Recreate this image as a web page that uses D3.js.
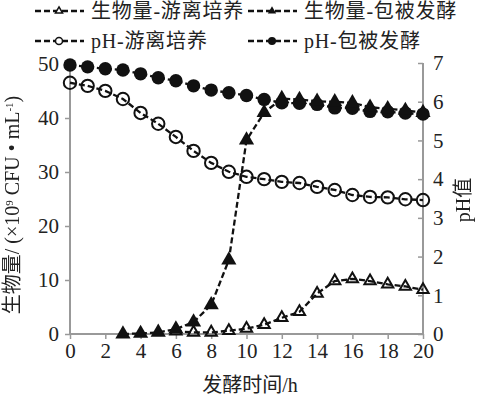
<!DOCTYPE html>
<html>
<head>
<meta charset="utf-8">
<script src="https://cdn.jsdelivr.net/npm/d3@7"></script>
<style>
  body { margin: 0; background: #fff; }
  svg text { font-family: "Liberation Serif", "Noto Sans CJK SC", serif; fill: #222; }
</style>
</head>
<body>
<div id="chart"></div>
<script>
// fermentation time (h)
var hours = d3.range(0, 21);
// biomass, free culture (x10^9 CFU/mL), starts at 6 h
var bioFreeT = [6, 7, 8, 9, 10, 11, 12, 13, 14, 15, 16, 17, 18, 19, 20];
var bioFree = [0.5, 0.3, 0.3, 0.6, 1.0, 1.7, 3.0, 4.1, 7.5, 9.8, 10.2, 9.8, 9.2, 8.8, 8.2];
// biomass, coated fermentation, starts at 3 h
var bioCoatT = [3, 4, 5, 6, 7, 8, 9, 10, 11, 12, 13, 14, 15, 16, 17, 18, 19, 20];
var bioCoat = [0, 0.1, 0.3, 0.9, 2.2, 5.4, 13.7, 35.9, 41.0, 43.6, 43.4, 43.1, 43.0, 42.8, 42.0, 41.7, 41.4, 41.0];
// pH values
var phFree = [6.49, 6.41, 6.28, 6.07, 5.71, 5.43, 5.09, 4.73, 4.42, 4.19, 4.06,
              4.0, 3.93, 3.9, 3.8, 3.72, 3.59, 3.54, 3.53, 3.48, 3.46];
var phCoat = [6.95, 6.9, 6.85, 6.82, 6.72, 6.62, 6.54, 6.41, 6.3, 6.23, 6.16,
              6.06, 5.97, 5.96, 5.93, 5.84, 5.83, 5.75, 5.74, 5.71, 5.68];
var xTicks = d3.range(0, 21, 2);
var leftTicks = [0, 10, 20, 30, 40, 50];
var rightTicks = [0, 1, 2, 3, 4, 5, 6, 7];

var W = 481, H = 399;
var svg = d3.select('#chart').append('svg').attr('width', W).attr('height', H);

// grey filter for the rotated titles
svg.append('defs').append('filter').attr('id', 'grey')
  .append('feColorMatrix').attr('type', 'saturate').attr('values', 0);

var x = d3.scaleLinear().domain([0, 20]).range([70, 423]);
var yL = d3.scaleLinear().domain([0, 50]).range([334, 64]);
var yR = d3.scaleLinear().domain([0, 7]).range([334, 63]);

// axes
var gx = svg.append('g').attr('transform', 'translate(0,334)')
  .call(d3.axisBottom(x).tickValues(xTicks).tickSize(5).tickPadding(4));
var gl = svg.append('g').attr('transform', 'translate(70,0)')
  .call(d3.axisLeft(yL).tickValues(leftTicks).tickSize(5).tickPadding(6));
var gr = svg.append('g').attr('transform', 'translate(423,0)')
  .call(d3.axisRight(yR).tickValues(rightTicks).tickFormat(d3.format('d')).tickSize(-5).tickPadding(10));
[gx, gl, gr].forEach(function (g) {
  g.attr('font-family', '"Liberation Serif", serif');
  g.select('.domain').attr('stroke', '#999').attr('stroke-width', 2);
  g.selectAll('.tick line').attr('stroke', '#999').attr('stroke-width', 1.5);
  g.selectAll('.tick text').style('font-size', '21px').attr('fill', '#222');
});
gx.select('.domain').attr('d', 'M70,0H423');
gl.select('.domain').attr('d', 'M0,334V64');
gr.select('.domain').attr('d', 'M0,334V63');

// axis titles
svg.append('text').attr('x', 250).attr('y', 392).attr('text-anchor', 'middle')
  .style('font-size', '20px').text('发酵时间/h');
var yt = svg.append('g').attr('filter', 'url(#grey)').append('text')
  .attr('transform', 'translate(19,205) rotate(-90)')
  .attr('text-anchor', 'middle').style('font-size', '20px');
yt.append('tspan').text('生物量/ (×10');
yt.append('tspan').attr('baseline-shift', 'super').style('font-size', '11px').text('9');
yt.append('tspan').text(' CFU • mL');
yt.append('tspan').attr('baseline-shift', 'super').style('font-size', '11px').text('-1');
yt.append('tspan').text(')');
svg.append('g').attr('filter', 'url(#grey)').append('text')
  .attr('transform', 'translate(470,200) rotate(-90)')
  .attr('text-anchor', 'middle').style('font-size', '20px').text('pH值');

var dash = '6,3';
function drawLine(xs, ys, yScale) {
  var pts = xs.map(function (t, i) { return [x(t), yScale(ys[i])]; });
  svg.append('path').attr('d', d3.line()(pts)).attr('fill', 'none')
    .attr('stroke', '#111').attr('stroke-width', 2.3).attr('stroke-dasharray', dash);
  return pts;
}
var tri = d3.symbol().type(d3.symbolTriangle);

// pH coated - filled circles
var p1 = drawLine(hours, phCoat, yR);
svg.selectAll('.c1').data(p1).enter().append('circle')
  .attr('cx', function (d) { return d[0]; }).attr('cy', function (d) { return d[1]; })
  .attr('r', 6.7).attr('fill', '#111');
// pH free - open circles
var p2 = drawLine(hours, phFree, yR);
svg.selectAll('.c2').data(p2).enter().append('circle')
  .attr('cx', function (d) { return d[0]; }).attr('cy', function (d) { return d[1]; })
  .attr('r', 6.2).attr('fill', 'none').attr('stroke', '#111').attr('stroke-width', 2);
// biomass free - open triangles
var p3 = drawLine(bioFreeT, bioFree, yL);
svg.selectAll('.t1').data(p3).enter().append('path')
  .attr('transform', function (d) { return 'translate(' + d[0] + ',' + d[1] + ')'; })
  .attr('d', tri.size(55)).attr('fill', 'none').attr('stroke', '#111').attr('stroke-width', 2);
// biomass coated - filled triangles
var p4 = drawLine(bioCoatT, bioCoat, yL);
svg.selectAll('.t2').data(p4).enter().append('path')
  .attr('transform', function (d) { return 'translate(' + d[0] + ',' + d[1] + ')'; })
  .attr('d', tri.size(100)).attr('fill', '#111');

// legend
var legend = [
  { label: '生物量-游离培养', lx: 35, ly: 11, kind: 'otri' },
  { label: '生物量-包被发酵', lx: 248, ly: 11, kind: 'ftri' },
  { label: 'pH-游离培养', lx: 35, ly: 41, kind: 'ocir' },
  { label: 'pH-包被发酵', lx: 248, ly: 41, kind: 'fcir' }
];
legend.forEach(function (d) {
  var g = svg.append('g');
  g.append('line').attr('x1', d.lx).attr('x2', d.lx + 49).attr('y1', d.ly).attr('y2', d.ly)
    .attr('stroke', '#111').attr('stroke-width', 2.3).attr('stroke-dasharray', dash);
  var cx = d.lx + 24;
  if (d.kind === 'otri') {
    g.append('path').attr('transform', 'translate(' + cx + ',' + d.ly + ')').attr('d', tri.size(22))
      .attr('fill', '#fff').attr('stroke', '#111').attr('stroke-width', 1.5);
  } else if (d.kind === 'ftri') {
    g.append('path').attr('transform', 'translate(' + cx + ',' + d.ly + ')').attr('d', tri.size(30)).attr('fill', '#111');
  } else if (d.kind === 'ocir') {
    g.append('circle').attr('cx', cx).attr('cy', d.ly).attr('r', 3.5).attr('fill', '#fff')
      .attr('stroke', '#111').attr('stroke-width', 1.5);
  } else {
    g.append('circle').attr('cx', cx).attr('cy', d.ly).attr('r', 4).attr('fill', '#111');
  }
  g.append('text').attr('x', d.lx + 56).attr('y', d.ly + 7).style('font-size', '20px')
    .style('letter-spacing', '0.8px').text(d.label);
});
</script>
</body>
</html>
